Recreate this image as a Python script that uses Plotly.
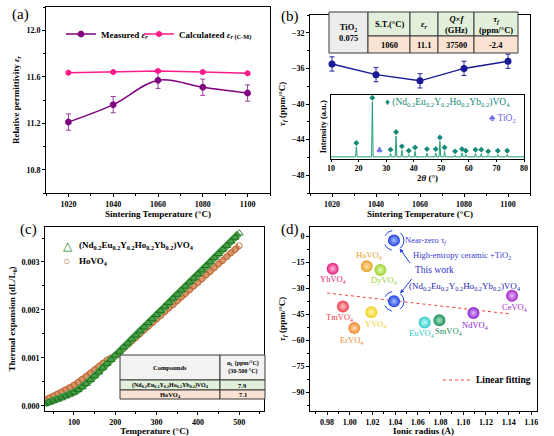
import plotly.graph_objects as go

W, H = 554, 436
SERIF = "Liberation Serif"

# ---------------- data ----------------
# (a)
temp_a = [1020, 1040, 1060, 1080, 1100]
eps_measured = [11.21, 11.36, 11.57, 11.51, 11.46]
eps_measured_err = [0.07, 0.07, 0.07, 0.07, 0.07]
eps_calc = [11.635, 11.64, 11.65, 11.64, 11.63]

# (b)
temp_b = [1020, 1040, 1060, 1080, 1100]
tauf_b = [-35.5, -36.7, -37.4, -36.0, -35.2]
tauf_b_err = [0.8, 0.8, 0.8, 0.8, 0.8]
xrd_peak_pos = [19.2, 25.0, 31.6, 33.6, 35.7, 38.2, 40.5, 44.8, 48.0, 49.5, 51.2,
                55.0, 57.5, 58.9, 62.4, 64.5, 67.0, 70.5, 73.9]
xrd_peak_int = [0.18, 1.0, 0.06, 0.38, 0.12, 0.04, 0.10, 0.07, 0.07, 0.28, 0.10,
                0.03, 0.07, 0.04, 0.06, 0.06, 0.03, 0.04, 0.04]
tio2_pos = [27.5]
tio2_int = [0.0]
xrd_range = [10, 80]

# (c)
temp_c = [30, 40, 50, 60, 70, 80, 90, 100, 110, 120, 130, 140, 150, 160, 170, 180,
          190, 200, 210, 220, 230, 240, 250, 260, 270, 280, 290, 300, 310, 320, 330,
          340, 350, 360, 370, 380, 390, 400, 410, 420, 430, 440, 450, 460, 470, 480,
          490, 500]
dl_he = [0.00004, 0.00007, 0.00010, 0.00013, 0.00016, 0.00020, 0.00024, 0.00028,
         0.00033, 0.00039, 0.00046, 0.00054, 0.00062, 0.00070, 0.00079, 0.00088,
         0.00096, 0.00105, 0.00113, 0.00122, 0.00130, 0.00139, 0.00147, 0.00156,
         0.00164, 0.00173, 0.00181, 0.00190, 0.00198, 0.00207, 0.00215, 0.00224,
         0.00232, 0.00241, 0.00249, 0.00258, 0.00266, 0.00275, 0.00283, 0.00292,
         0.00300, 0.00309, 0.00317, 0.00326, 0.00334, 0.00343, 0.00351, 0.00360]
dl_ho = [0.00012, 0.00016, 0.00020, 0.00024, 0.00028, 0.00033, 0.00038, 0.00043,
         0.00049, 0.00055, 0.00061, 0.00068, 0.00075, 0.00082, 0.00089, 0.00096,
         0.00100, 0.00104, 0.00112, 0.00119, 0.00127, 0.00135, 0.00142, 0.00150,
         0.00158, 0.00165, 0.00173, 0.00181, 0.00188, 0.00196, 0.00204, 0.00211,
         0.00219, 0.00227, 0.00234, 0.00242, 0.00250, 0.00257, 0.00265, 0.00273,
         0.00280, 0.00288, 0.00296, 0.00303, 0.00311, 0.00319, 0.00326, 0.00334]

# (d)
d_names = ["YbVO<sub>4</sub>", "TmVO<sub>4</sub>", "ErVO<sub>4</sub>", "HoVO<sub>4</sub>",
           "YVO<sub>4</sub>", "DyVO<sub>4</sub>", "EuVO<sub>4</sub>", "SmVO<sub>4</sub>",
           "NdVO<sub>4</sub>", "CeVO<sub>4</sub>"]
d_radius = [0.985, 0.994, 1.004, 1.015, 1.019, 1.027, 1.066, 1.079, 1.109, 1.143]
d_tauf = [-18.7, -40.4, -52.9, -17.3, -43.7, -19.4, -49.6, -48.4, -44.2, -34.3]
he_radius = [1.039]
he_tauf = [-37.5]
he_tio2_tauf = [-2.4]
fit_radius = [0.98, 1.142]
fit_tauf = [-32.7, -44.8]

# ---------------- styles ----------------
d_colors = ["#E8197A", "#F0404E", "#F08A30", "#E8A22C", "#EFD21E", "#9BD032",
            "#2EC8C8", "#1E8C5E", "#8A22D0", "#A22AC8"]
d_light = ["#FFC0DC", "#FFC4C8", "#FFD8B0", "#FFE0A8", "#FFF6B0", "#E4FFB0",
           "#C8FFFF", "#A8E8C8", "#E0B8FF", "#EAB8FF"]
d_label_dx = [0, -3, -3, 2, 4, 4, -3, 9, 2, 2]
d_label_dy = [-11, -11, -12, 11, -12, -11, -11, -11, -12, -12]
HE_BLUE = "#1F3FE0"
NOTE_BLUE = "#3A3AD8"


def px(x):
    return x / W


def py(y):
    return 1 - y / H


tick_font = dict(family=SERIF, size=8, color="black", weight="bold")
title_font = dict(family=SERIF, size=9, color="black", weight="bold")


def axis_common(**kw):
    d = dict(showline=True, linecolor="black", linewidth=1, mirror=True,
             ticks="outside", ticklen=3, tickwidth=1, tickcolor="black",
             showgrid=False, zeroline=False, tickfont=tick_font,
             title_font=title_font, automargin=False)
    d.update(kw)
    return d


fig = go.Figure()

# ---------- (a) ----------
fig.add_trace(go.Scatter(
    x=temp_a, y=eps_measured, mode="lines+markers", name="Measured <i>ε<sub>r</sub></i>",
    line=dict(color="#800080", width=1.5, shape="spline"),
    marker=dict(symbol="octagon", size=7, color="#800080"),
    error_y=dict(type="data", array=eps_measured_err, color="#9A3A9A", thickness=1, width=2.5),
    xaxis="x", yaxis="y", legend="legend"))
fig.add_trace(go.Scatter(
    x=temp_a, y=eps_calc, mode="lines+markers",
    name="Calculateed <i>ε<sub>r</sub></i><sub> (C-M)</sub>",
    line=dict(color="#FF1A8C", width=1.5),
    marker=dict(symbol="hexagon", size=6.5, color="#FF1A8C"),
    xaxis="x", yaxis="y", legend="legend2"))

# ---------- (b) ----------
fig.add_trace(go.Scatter(
    x=temp_b, y=tauf_b, mode="lines+markers", showlegend=False,
    line=dict(color="#1A1A96", width=1.5),
    marker=dict(symbol="circle", size=7, color="#1A1A96"),
    error_y=dict(type="data", array=tauf_b_err, color="#2828A8", thickness=1, width=2.5),
    xaxis="x2", yaxis="y2"))

# XRD inset line built from the peak list
xrd_x = [xrd_range[0]]
xrd_y = [0.0]
for p, h in zip(xrd_peak_pos, xrd_peak_int):
    xrd_x += [p - 0.3, p, p + 0.3]
    xrd_y += [0.0, h, 0.0]
xrd_x.append(xrd_range[1])
xrd_y.append(0.0)
fig.add_trace(go.Scatter(
    x=xrd_x, y=xrd_y, mode="lines", showlegend=False,
    line=dict(color="#22A070", width=1), xaxis="x5", yaxis="y5"))
fig.add_trace(go.Scatter(
    x=xrd_peak_pos, y=[h + 0.07 for h in xrd_peak_int], mode="markers", showlegend=False,
    marker=dict(symbol="diamond", size=4.5, color="#138A78"), xaxis="x5", yaxis="y5"))
fig.add_trace(go.Scatter(
    x=tio2_pos, y=[v + 0.1 for v in tio2_int], mode="text", text=["♣"], showlegend=False,
    textfont=dict(family="DejaVu Sans", size=8, color="#6A6AEE"), xaxis="x5", yaxis="y5"))

# ---------- (c) ----------
fig.add_trace(go.Scatter(
    x=temp_c, y=dl_ho, mode="lines+markers", showlegend=False,
    line=dict(color="#D9946A", width=6),
    marker=dict(symbol="circle-open", size=6, color="#B0602A", line=dict(width=0.8)),
    xaxis="x3", yaxis="y3"))
fig.add_trace(go.Scatter(
    x=temp_c, y=dl_he, mode="lines+markers", showlegend=False,
    line=dict(color="#4AA04A", width=7),
    marker=dict(symbol="triangle-up-open", size=7, color="#146A14", line=dict(width=0.8)),
    xaxis="x3", yaxis="y3"))

# ---------- (d) ----------
fig.add_trace(go.Scatter(
    x=fit_radius, y=fit_tauf, mode="lines", showlegend=False,
    line=dict(color="#F04040", width=1, dash="dot"),
    xaxis="x4", yaxis="y4"))
fig.add_trace(go.Scatter(
    x=d_radius, y=d_tauf, mode="markers", showlegend=False,
    marker=dict(size=12, color=d_colors, line=dict(width=0),
                gradient=dict(type="radial", color=d_light)),
    xaxis="x4", yaxis="y4"))
fig.add_trace(go.Scatter(
    x=he_radius * 2, y=he_tauf + he_tio2_tauf, mode="markers", showlegend=False,
    marker=dict(size=12, color=HE_BLUE, line=dict(width=0),
                gradient=dict(type="radial", color="#A8C0FF")),
    xaxis="x4", yaxis="y4"))

annotations = []
shapes = []

for name, xr, tv, c, dx, dy in zip(d_names, d_radius, d_tauf, d_colors, d_label_dx, d_label_dy):
    annotations.append(dict(x=xr, y=tv, xref="x4", yref="y4", text=name, showarrow=False,
                            xanchor="center", yanchor="middle",
                            xshift=dx, yshift=dy, font=dict(family=SERIF, size=8.5, color=c)))

for yv in he_tauf + he_tio2_tauf:
    shapes.append(dict(type="circle", xref="x4", yref="y4", xsizemode="pixel",
                       ysizemode="pixel", xanchor=he_radius[0], yanchor=yv,
                       x0=-10, x1=10, y0=-10, y1=10,
                       line=dict(color=HE_BLUE, width=1, dash="dash")))

# arrows from "This work"
annotations.append(dict(x=he_radius[0], y=he_tio2_tauf[0], xref="x4", yref="y4",
                        ax=17, ay=24, axref="pixel", ayref="pixel", text="", showarrow=True,
                        arrowhead=2, arrowsize=0.8, arrowwidth=1, arrowcolor=HE_BLUE, standoff=10))
annotations.append(dict(x=he_radius[0], y=he_tauf[0], xref="x4", yref="y4",
                        ax=19, ay=-24, axref="pixel", ayref="pixel", text="", showarrow=True,
                        arrowhead=2, arrowsize=0.8, arrowwidth=1, arrowcolor=HE_BLUE, standoff=10))


def note(x, y, text, size, color, xanchor="left", weight="normal"):
    annotations.append(dict(x=px(x), y=py(y), xref="paper", yref="paper", xanchor=xanchor,
                            yanchor="middle", text=text, showarrow=False,
                            font=dict(family=SERIF, size=size, color=color, weight=weight)))


note(403, 241, "Near-zero τ<sub><i>f</i></sub>", 8.5, NOTE_BLUE)
note(411, 255, "High-entropy ceramic +TiO<sub>2</sub>", 8.5, NOTE_BLUE)
note(413, 270, "This work", 9.5, "#3030C0")
note(407, 286, "(Nd<sub>0.2</sub>Eu<sub>0.2</sub>Y<sub>0.2</sub>Ho<sub>0.2</sub>Yb<sub>0.2</sub>)VO<sub>4</sub>",
     9, "#2828B0")

# (d) legend: linear fitting
shapes.append(dict(type="line", xref="paper", yref="paper", x0=px(443), x1=px(470),
                   y0=py(380), y1=py(380), line=dict(color="#F04040", width=1, dash="dot")))
note(474, 380, "Linear fitting", 9.5, "black", weight="bold")

# panel letters
for lab, xx, yy in [("(a)", 10, 15), ("(b)", 279, 16), ("(c)", 18, 229), ("(d)", 279, 229)]:
    note(xx, yy, lab, 15, "black")

# XRD inset legend
note(383, 103, "♦ (Nd<sub>0.2</sub>Eu<sub>0.2</sub>Y<sub>0.2</sub>Ho<sub>0.2</sub>Yb<sub>0.2</sub>)VO<sub>4</sub>",
     9.5, "#138A78")
note(487, 118, "♣ TiO<sub>2</sub>", 9.5, "#6A6AEE")

# (c) legend
note(61, 246, "△", 12, "#1E8A1E")
note(61, 261, "○", 12, "#C8743C")
note(77, 246, "(Nd<sub>0.2</sub>Eu<sub>0.2</sub>Y<sub>0.2</sub>Ho<sub>0.2</sub>Yb<sub>0.2</sub>)VO<sub>4</sub>",
     9, "black", weight="bold")
note(77, 261, "HoVO<sub>4</sub>", 9, "black", weight="bold")


# ---------- tables ----------
def cell(x0, x1, y0, y1, fill, text, size=8, bold=True, color="black"):
    shapes.append(dict(type="rect", xref="paper", yref="paper", x0=px(x0), x1=px(x1),
                       y0=py(y1), y1=py(y0), fillcolor=fill, layer="above",
                       line=dict(color="#3A3A3A", width=1)))
    annotations.append(dict(x=px((x0 + x1) / 2), y=py((y0 + y1) / 2), xref="paper",
                            yref="paper", text=text, showarrow=False, align="center",
                            xanchor="center", yanchor="middle",
                            font=dict(family=SERIF, size=size, color=color,
                                      weight="bold" if bold else "normal")))


GREEN_C = "#E2EFDA"
PEACH_C = "#FBE3D3"
GREY_C = "#EDEDED"

# (b) table
bx = [329, 368, 410, 438, 474, 518]
by = [12, 36, 53]
cell(bx[0], bx[1], by[0], by[2], GREY_C, "TiO<sub>2</sub><br>0.075", 8.5)
b_head = ["S.T.(°C)", "<i>ε<sub>r</sub></i>", "<i>Q</i>×<i>f</i><br>(GHz)",
          "<i>τ<sub>f</sub></i><br>(ppm/°C)"]
b_vals = ["1060", "11.1", "37500", "-2.4"]
for i in range(4):
    cell(bx[i + 1], bx[i + 2], by[0], by[1], GREEN_C, b_head[i], 8.5)
    cell(bx[i + 1], bx[i + 2], by[1], by[2], PEACH_C, b_vals[i], 8.5)

# (c) table
cx = [120, 220, 265]
cy = [355, 380, 390, 399]
cell(cx[0], cx[1], cy[0], cy[1], "#F2F2F2", "Compounds", 6.5)
cell(cx[1], cx[2], cy[0], cy[1], "#F2F2F2", "α<sub>L</sub> (ppm/°C)<br>(30-500 °C)", 6)
cell(cx[0], cx[1], cy[1], cy[2], GREEN_C,
     "(Nd<sub>0.2</sub>Eu<sub>0.2</sub>Y<sub>0.2</sub>Ho<sub>0.2</sub>Yb<sub>0.2</sub>)VO<sub>4</sub>", 6)
cell(cx[1], cx[2], cy[1], cy[2], GREEN_C, "7.9", 6.5)
cell(cx[0], cx[1], cy[2], cy[3], PEACH_C, "HoVO<sub>4</sub>", 6.5)
cell(cx[1], cx[2], cy[2], cy[3], PEACH_C, "7.1", 6.5)

legend_style = dict(xanchor="left", yanchor="middle", orientation="h",
                    bgcolor="rgba(0,0,0,0)", font=dict(family=SERIF, size=9, weight="bold"),
                    itemwidth=30)

fig.update_layout(
    width=W, height=H, margin=dict(l=0, r=0, t=0, b=0),
    paper_bgcolor="white", plot_bgcolor="white",
    font=dict(family=SERIF, color="black"),
    # (a)
    xaxis=axis_common(domain=[px(46), px(270)], range=[1010, 1110], tickvals=[1020, 1040, 1060, 1080, 1100],
                      minor=dict(ticks="outside", ticklen=2, dtick=10, tick0=1010),
                      title=dict(text="Sintering Temperature (°C)", standoff=0), anchor="y"),
    yaxis=axis_common(domain=[py(193), py(7)], range=[10.6, 12.2], tickvals=[10.8, 11.2, 11.6, 12.0],
                      tickformat=".1f", minor=dict(ticks="outside", ticklen=2, dtick=0.2, tick0=10.6),
                      title=dict(text="Relative permittivity <i>ε<sub>r</sub></i>", standoff=5), anchor="x"),
    # (b)
    xaxis2=axis_common(domain=[px(310), px(530)], range=[1010, 1110], tickvals=[1020, 1040, 1060, 1080, 1100],
                       minor=dict(ticks="outside", ticklen=2, dtick=10, tick0=1010),
                       title=dict(text="Sintering Temperature (°C)", standoff=0), anchor="y2"),
    yaxis2=axis_common(domain=[py(193), py(15)], range=[-50, -30], tickvals=[-48, -44, -40, -36, -32],
                       minor=dict(ticks="outside", ticklen=2, dtick=2, tick0=-50),
                       title=dict(text="<i>τ<sub>f</sub></i> (ppm/°C)", standoff=4), anchor="x2"),
    # inset
    xaxis5=axis_common(domain=[px(331), px(524)], range=[10, 80], dtick=10, ticklen=2,
                       title=dict(text="2<i>θ</i> (°)", standoff=0,
                                  font=dict(family=SERIF, size=9, weight="bold")), anchor="y5"),
    yaxis5=axis_common(domain=[py(158.5), py(95)], range=[-0.03, 1.12], showticklabels=False,
                       ticks="", title=dict(text="Intensity (a.u.)", standoff=2,
                                            font=dict(family=SERIF, size=8.5, weight="bold")),
                       anchor="x5"),
    # (c)
    xaxis3=axis_common(domain=[px(45), px(264)], range=[30, 560], tickvals=[100, 200, 300, 400, 500],
                       minor=dict(ticks="outside", ticklen=2, dtick=50, tick0=0),
                       title=dict(text="Temperature (°C)", standoff=0), anchor="y3"),
    yaxis3=axis_common(domain=[py(411), py(227)], range=[-0.00011, 0.00373],
                       tickvals=[0, 0.001, 0.002, 0.003], tickformat=".3f",
                       minor=dict(ticks="outside", ticklen=2, dtick=0.0005, tick0=0),
                       title=dict(text="Thermal expansion (dL/L<sub>0</sub>)", standoff=4), anchor="x3"),
    # (d)
    xaxis4=axis_common(domain=[px(310), px(537)], range=[0.965, 1.165], dtick=0.02, tick0=0.98,
                       tickformat=".2f", minor=dict(ticks="outside", ticklen=2, dtick=0.01),
                       title=dict(text="Ionic radius (Å)", standoff=0), anchor="y4"),
    yaxis4=axis_common(domain=[py(411), py(227)], range=[-100.6, 5.3],
                       tickvals=[0, -15, -30, -45, -60, -75, -90],
                       minor=dict(ticks="outside", ticklen=2, dtick=7.5, tick0=0),
                       title=dict(text="<i>τ<sub>f</sub></i> (ppm/°C)", standoff=4), anchor="x4"),
    legend=dict(x=px(61), y=py(34), **legend_style),
    legend2=dict(x=px(139), y=py(34), **legend_style),
    annotations=annotations, shapes=shapes,
)

fig.write_html("out.html", config={"displayModeBar": False},
               post_script="document.body.style.margin='0';document.body.style.padding='0';"
                           "document.body.style.overflow='hidden';")
